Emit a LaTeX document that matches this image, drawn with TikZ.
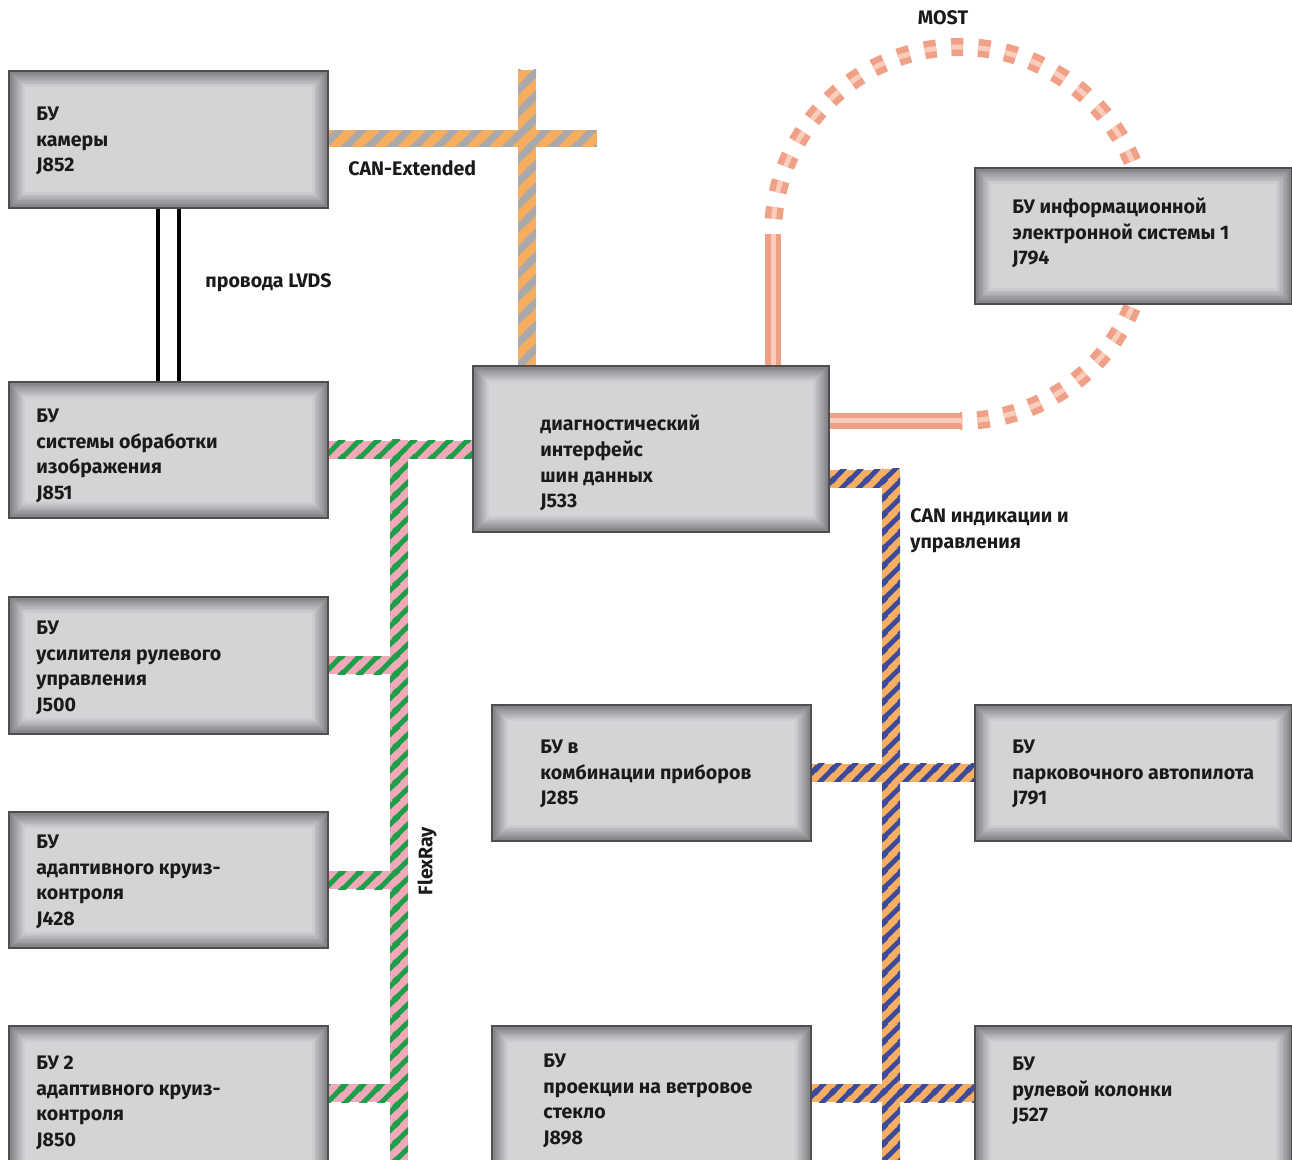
\documentclass[tikz,border=0pt]{standalone}
\usepackage{fontspec}
\setmainfont{Fira Sans}
\usepackage{tikz}
\usetikzlibrary{positioning}
\usetikzlibrary{patterns}
\definecolor{boxface}{HTML}{D3D4D6}
\definecolor{boxedge}{HTML}{7E7F83}
\definecolor{boxline}{HTML}{4E4E50}
\definecolor{textcol}{HTML}{1A1A1A}
\definecolor{extorange}{HTML}{F6AE5E}
\definecolor{extgray}{HTML}{A9A9AB}
\definecolor{flexpink}{HTML}{F1A9B9}
\definecolor{flexgreen}{HTML}{1D9E4B}
\definecolor{indorange}{HTML}{F5AE62}
\definecolor{indblue}{HTML}{3C4A9B}
\definecolor{mostsalmon}{HTML}{F0A086}
\definecolor{mostlight}{HTML}{F9CDBC}
\pgfdeclarelayer{bus}
\pgfsetlayers{bus,main}
% diagonal stripes, tile p x p, stripe width w
\newcommand\declarestripes[3]{%
  \pgfdeclarepatternformonly{#1}{\pgfpointorigin}{\pgfpoint{#2}{#2}}{\pgfpoint{#2}{#2}}{%
    \pgfsetlinewidth{#3}
    \pgfpathmoveto{\pgfpoint{-0.5*#2}{-0.5*#2}}\pgfpathlineto{\pgfpoint{1.5*#2}{1.5*#2}}
    \pgfpathmoveto{\pgfpoint{-0.5*#2}{0.5*#2}}\pgfpathlineto{\pgfpoint{0.5*#2}{1.5*#2}}
    \pgfpathmoveto{\pgfpoint{0.5*#2}{-0.5*#2}}\pgfpathlineto{\pgfpoint{1.5*#2}{0.5*#2}}
    \pgfusepath{stroke}}}
\declarestripes{ext stripes}{11.5pt}{3.6pt}
\declarestripes{flex stripes}{9pt}{2.6pt}
\declarestripes{ind stripes}{8.5pt}{2.5pt}
\tikzset{%
  bu box/.style={
    rectangle,
    draw=boxline,
    line width=1pt,
    fill=boxface,
    anchor=north west,
    inner sep=0pt,
    path picture={
      \foreach \k in {0,...,12}{
        \pgfmathtruncatemacro\mix{\k*100/12}
        \fill[boxface!\mix!boxedge]
          ([shift={(\k*0.65pt,\k*0.65pt)}]path picture bounding box.south west)
          rectangle ([shift={(-\k*0.65pt,-\k*0.65pt)}]path picture bounding box.north east);
      }
    }
  },
  bu text/.style={
    anchor=west,
    align=left,
    inner sep=0pt,
    text=textcol,
    font=\bfseries\fontsize{9.8}{12.8}\selectfont
  },
  bus label/.style={
    inner sep=0pt,
    text=textcol,
    font=\bfseries\fontsize{9.8}{12.8}\selectfont
  },
  can ext/.style={
    preaction={fill=extorange},
    pattern=ext stripes,
    pattern color=extgray
  },
  flexray/.style={
    preaction={fill=flexpink},
    pattern=flex stripes,
    pattern color=flexgreen
  },
  can ind/.style={
    preaction={fill=indorange},
    pattern=ind stripes,
    pattern color=indblue
  },
  most line/.style={
    draw=mostsalmon,
    line width=8pt,
    postaction={draw=mostlight,line width=2.5pt}
  },
  most dash/.style={
    draw=mostsalmon,
    line width=9pt,
    dash pattern=on 6pt off 7.5pt,
    dash phase=6pt,
    postaction={draw=mostlight,line width=2.5pt,dash pattern=on 6pt off 7.5pt,dash phase=6pt}
  },
  lvds/.style={
    draw=black,
    line width=1.8pt
  },
}
\begin{document}
\begin{tikzpicture}[x=0.5pt,y=-0.5pt]
    \useasboundingbox (0,0) rectangle (1292,1160);
    \clip (0,0) rectangle (1292,1160);

    % control units
    \node (j852) [bu box,minimum width=159.5pt,minimum height=68.5pt] at (8,70) {};
    \node (j851) [bu box,minimum width=159.5pt,minimum height=68pt] at (8,381) {};
    \node (j500) [bu box,minimum width=159.5pt,minimum height=68.5pt] at (8,596) {};
    \node (j428) [bu box,minimum width=159.5pt,minimum height=68pt] at (8,811) {};
    \node (j850) [bu box,minimum width=159.5pt,minimum height=75pt] at (8,1025) {};
    \node (j533) [bu box,minimum width=178pt,minimum height=83pt] at (472,365) {};
    \node (j794) [bu box,minimum width=158.5pt,minimum height=68pt] at (974,167) {};
    \node (j285) [bu box,minimum width=159.5pt,minimum height=68pt] at (491,704) {};
    \node (j791) [bu box,minimum width=158.5pt,minimum height=68pt] at (974,704) {};
    \node (j898) [bu box,minimum width=159.5pt,minimum height=75pt] at (491,1025) {};
    \node (j527) [bu box,minimum width=158.5pt,minimum height=75pt] at (974,1025) {};

    \node (j852 text) [bu text] at (36,141) {БУ\\камеры\\J852};
    \node (j851 text) [bu text] at (36,456) {БУ\\системы обработки\\изображения\\J851};
    \node (j500 text) [bu text] at (36,668) {БУ\\усилителя рулевого\\управления\\J500};
    \node (j428 text) [bu text] at (36,882) {БУ\\адаптивного круиз-\\контроля\\J428};
    \node (j850 text) [bu text] at (36,1103) {БУ 2\\адаптивного круиз-\\контроля\\J850};
    \node (j533 text) [bu text] at (540,463) {диагностический\\интерфейс\\шин данных\\J533};
    \node (j794 text) [bu text] at (1012,233) {БУ информационной\\электронной системы 1\\J794};
    \node (j285 text) [bu text] at (540,774) {БУ в\\комбинации приборов\\J285};
    \node (j791 text) [bu text] at (1012,774) {БУ\\парковочного автопилота\\J791};
    \node (j898 text) [bu text] at (543,1101) {БУ\\проекции на ветровое\\стекло\\J898};
    \node (j527 text) [bu text] at (1012,1091) {БУ\\рулевой колонки\\J527};

    % free ends of the buses
    \coordinate (canext top) at (527,70);
    \coordinate (canext end) at (597,138);
    \coordinate (flexray top) at (399,440);
    \coordinate (flexray end) at (399,1170);
    \coordinate (canind top) at (891,469);
    \coordinate (canind end) at (891,1170);
    \coordinate (row5) at (0,1093);
    \coordinate (most left) at (773,234);
    \coordinate (most low) at (960,421);

    \begin{pgfonlayer}{bus}
    % CAN-Extended
    \fill[can ext] ([yshift=4.5pt]j852.east) rectangle ([yshift=-4.5pt]canext end);
    \fill[can ext] ([xshift=-4.5pt]canext top) rectangle ([xshift=4.5pt]canext top |- j533.north);
    % LVDS
    \draw[lvds] ([xshift=-5.25pt]j852.south) -- ([xshift=-5.25pt]j851.north);
    \draw[lvds] ([xshift=5.25pt]j852.south) -- ([xshift=5.25pt]j851.north);
    % FlexRay
    \fill[flexray] ([yshift=4.5pt]j851.east) rectangle ([yshift=-4.5pt]j851.east -| j533.west);
    \fill[flexray] ([xshift=-4.5pt]flexray top) rectangle ([xshift=4.5pt]flexray end);
    \fill[flexray] ([yshift=4.5pt]j500.east) rectangle ([yshift=-4.5pt]j500.east -| flexray top);
    \fill[flexray] ([yshift=4.5pt]j428.east) rectangle ([yshift=-4.5pt]j428.east -| flexray top);
    \fill[flexray] ([yshift=4.5pt]j850.east |- row5) rectangle ([yshift=-4.5pt]row5 -| flexray top);
    % CAN indikacii i upravleniya
    \fill[can ind] ([yshift=-10.5pt]j533.east) rectangle ([xshift=4.5pt,yshift=-19.5pt]j533.east -| canind top);
    \fill[can ind] ([xshift=-4.5pt]canind top) rectangle ([xshift=4.5pt]canind end);
    \fill[can ind] ([yshift=4.5pt]j285.east) rectangle ([yshift=-4.5pt]j791.west);
    \fill[can ind] ([yshift=4.5pt]j898.east |- row5) rectangle ([yshift=-4.5pt]j527.west |- row5);
    % MOST
    \draw[most line] (most left |- j533.north) -- (most left);
    \draw[most line] (j533.east |- most low) -- (most low);
    \draw[most dash] (most left) arc[start angle=180,end angle=450,radius=187];
    \end{pgfonlayer}

    % bus labels
    \node (canext label) [bus label,anchor=west] at (348,168) {CAN-Extended};
    \node (most label) [bus label] at (943,18) {MOST};
    \node (lvds label) [bus label,anchor=west] at (205,283) {провода LVDS};
    \node (flexray label) [bus label,rotate=90] at (427,861) {FlexRay};
    \node (canind label) [bus label,anchor=west,align=left] at (910,531) {CAN индикации и\\управления};
\end{tikzpicture}
\end{document}
